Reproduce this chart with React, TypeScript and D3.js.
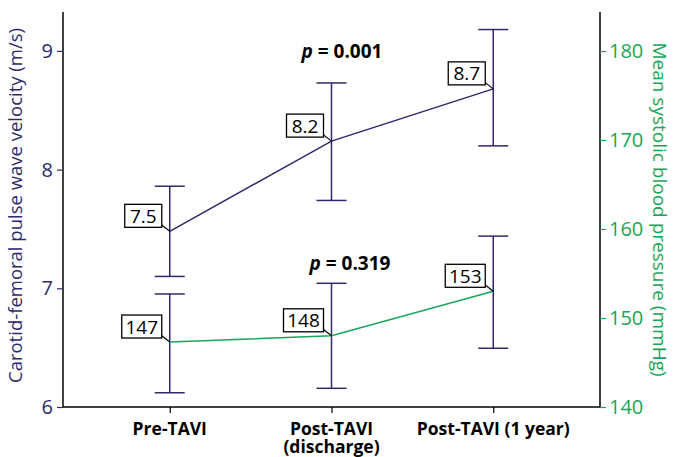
import React, { useRef, useEffect } from "react";
import * as d3 from "d3";

const categories = ["Pre-TAVI", "Post-TAVI\n(discharge)", "Post-TAVI (1 year)"];
const pwvMean = [7.48, 8.24, 8.68];
const pwvLow = [7.1, 7.74, 8.2];
const pwvHigh = [7.86, 8.73, 9.18];
const pwvLabels = ["7.5", "8.2", "8.7"];
const sbpMean = [147.3, 148.0, 153.0];
const sbpLow = [141.6, 142.1, 146.6];
const sbpHigh = [152.7, 153.9, 159.2];
const sbpLabels = ["147", "148", "153"];
const leftTicks = [6, 7, 8, 9];
const rightTicks = [140, 150, 160, 170, 180];
const pValues = ["0.001", "0.319"];

const NAVY = "#2d2a6c";
const GREEN = "#17a659";
const FONT = "'Open Sans', 'DejaVu Sans', sans-serif";

const App = () => {
  const svgRef = useRef<SVGSVGElement>(null);

  useEffect(() => {
    document.body.style.margin = "0";
    const w = 673;
    const h = 457;
    const margin = { top: 12, right: 73, bottom: 50, left: 63 };
    const svg = d3.select(svgRef.current).attr("width", w).attr("height", h).style("background", "#fff").style("display", "block");
    svg.selectAll("*").remove();

    const x = d3
      .scalePoint()
      .domain(categories)
      .range([margin.left, w - margin.right])
      .padding(0.66);
    const yL = d3
      .scaleLinear()
      .domain([6, 9])
      .range([h - margin.bottom, h - margin.bottom - 3 * 118.7]);
    const yR = d3
      .scaleLinear()
      .domain([140, 180])
      .range([h - margin.bottom, h - margin.bottom - 356]);

    const bottom = h - margin.bottom;

    // axes
    const gx = svg
      .append("g")
      .attr("transform", `translate(0,${bottom})`)
      .call(d3.axisBottom(x).tickSize(6).tickFormat(() => ""));
    gx.select(".domain").attr("d", `M${margin.left},0H${w - margin.right}`).attr("stroke", "#000").attr("stroke-width", 1.5);
    gx.selectAll(".tick line").attr("stroke", "#000").attr("stroke-width", 1.2);

    categories.forEach((c) => {
      const lines = c.split("\n");
      const t = svg
        .append("text")
        .attr("x", x(c)!)
        .attr("y", 435)
        .attr("text-anchor", "middle")
        .attr("font-family", FONT)
        .attr("font-weight", "bold")
        .attr("font-size", 17.5)
        .attr("fill", "#000");
      lines.forEach((l, i) => t.append("tspan").attr("x", x(c)!).attr("dy", i ? 17.5 : 0).text(l));
    });

    const gl = svg
      .append("g")
      .attr("transform", `translate(${margin.left},0)`)
      .call(d3.axisLeft(yL).tickValues(leftTicks).tickSize(6).tickPadding(4).tickFormat(d3.format("d")));
    gl.select(".domain").attr("d", `M0,${margin.top}V${bottom}`).attr("stroke", "#000").attr("stroke-width", 1.5);
    gl.selectAll(".tick line").attr("stroke", NAVY).attr("stroke-width", 1.2);
    gl.selectAll(".tick text").attr("fill", NAVY).attr("font-size", 20).attr("font-family", FONT);

    const gr = svg
      .append("g")
      .attr("transform", `translate(${w - margin.right},0)`)
      .call(d3.axisRight(yR).tickValues(rightTicks).tickSize(6).tickPadding(3).tickFormat(d3.format("d")));
    gr.select(".domain").attr("d", `M0,${margin.top}V${bottom}`).attr("stroke", "#000").attr("stroke-width", 1.5);
    gr.selectAll(".tick line").attr("stroke", GREEN).attr("stroke-width", 1.2);
    gr.selectAll(".tick text").attr("fill", GREEN).attr("font-size", 20).attr("font-family", FONT);

    svg
      .append("text")
      .attr("transform", `translate(22,${(margin.top + bottom) / 2 - 4}) rotate(-90)`)
      .attr("text-anchor", "middle")
      .attr("font-family", FONT)
      .attr("font-size", 18.5)
      .attr("fill", NAVY)
      .text("Carotid-femoral pulse wave velocity (m/s)");
    svg
      .append("text")
      .attr("transform", `translate(653,${(margin.top + bottom) / 2}) rotate(90)`)
      .attr("text-anchor", "middle")
      .attr("font-family", FONT)
      .attr("font-size", 19)
      .attr("fill", GREEN)
      .text("Mean systolic blood pressure (mmHg)");

    // error bars
    const drawBars = (low: number[], high: number[], y: d3.ScaleLinear<number, number>) => {
      categories.forEach((c, i) => {
        const cx = x(c)!;
        const g = svg.append("g").attr("stroke", NAVY).attr("stroke-width", 1.5);
        g.append("line").attr("x1", cx).attr("x2", cx).attr("y1", y(low[i])).attr("y2", y(high[i]));
        g.append("line").attr("x1", cx - 15).attr("x2", cx + 15).attr("y1", y(low[i])).attr("y2", y(low[i]));
        g.append("line").attr("x1", cx - 15).attr("x2", cx + 15).attr("y1", y(high[i])).attr("y2", y(high[i]));
      });
    };
    drawBars(pwvLow, pwvHigh, yL);
    drawBars(sbpLow, sbpHigh, yR);

    const line = (vals: number[], y: d3.ScaleLinear<number, number>) =>
      d3
        .line<number>()
        .x((_, i) => x(categories[i])!)
        .y((d) => y(d))(vals);

    svg.append("path").attr("d", line(pwvMean, yL)).attr("fill", "none").attr("stroke", NAVY).attr("stroke-width", 1.5);
    svg.append("path").attr("d", line(sbpMean, yR)).attr("fill", "none").attr("stroke", GREEN).attr("stroke-width", 1.5);

    // value labels
    const drawLabels = (vals: number[], labels: string[], y: d3.ScaleLinear<number, number>) => {
      categories.forEach((c, i) => {
        const px = x(c)!;
        const py = y(vals[i]);
        const bw = labels[i].includes(".") ? 37 : 40;
        const bh = 23;
        const right = px - 8;
        const bot = py - 4;
        svg
          .append("line")
          .attr("x1", right - 1)
          .attr("y1", bot - 3)
          .attr("x2", px)
          .attr("y2", py)
          .attr("stroke", "#000")
          .attr("stroke-width", 1.2);
        svg
          .append("rect")
          .attr("x", right - bw)
          .attr("y", bot - bh)
          .attr("width", bw)
          .attr("height", bh)
          .attr("fill", "#fff")
          .attr("stroke", "#000")
          .attr("stroke-width", 1.3);
        svg
          .append("text")
          .attr("x", right - bw / 2)
          .attr("y", bot - 4.5)
          .attr("text-anchor", "middle")
          .attr("font-family", FONT)
          .attr("font-size", 19)
          .attr("fill", "#000")
          .text(labels[i]);
      });
    };
    drawLabels(pwvMean, pwvLabels, yL);
    drawLabels(sbpMean, sbpLabels, yR);

    // p-values
    const pX = [342, 350];
    const pY = [58, 270];
    pValues.forEach((p, i) => {
      const t = svg
        .append("text")
        .attr("x", pX[i])
        .attr("y", pY[i])
        .attr("text-anchor", "middle")
        .attr("font-family", FONT)
        .attr("font-weight", "bold")
        .attr("font-size", 19)
        .attr("fill", "#000");
      t.append("tspan").attr("font-style", "italic").text("p");
      t.append("tspan").text(` = ${p}`);
    });
  }, []);

  return <svg ref={svgRef}></svg>;
};

export default App;
